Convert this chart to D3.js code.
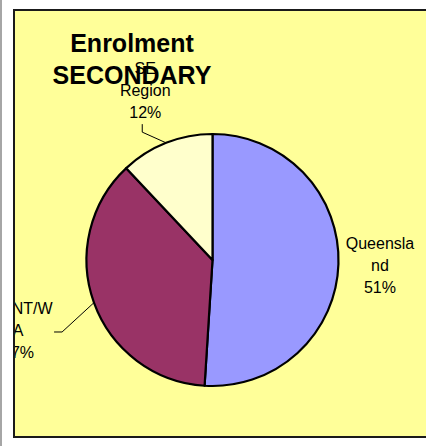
<!DOCTYPE html>
<html>
<head>
<meta charset="utf-8">
<title>Enrolment SECONDARY</title>
<script src="https://cdn.jsdelivr.net/npm/d3@7"></script>
<style>
body { margin: 0; background: #fff; overflow: hidden; }
svg { display: block; }
svg text { font-family: "Liberation Sans", Arial, sans-serif; fill: #000; }
</style>
</head>
<body>
<div id="chart"></div>
<script>
// data
var regions = ["Queensland", "NT/WA", "SE Region"];
var shares = [51, 37, 12];
var colours = ["#9999FF", "#993366", "#FFFFCC"];
// how Excel wrapped each label
var labelLines = [["Queensla", "nd", "51%"], ["NT/W", "A", "37%"], ["SE", "Region", "12%"]];
var titleLines = ["Enrolment", "SECONDARY"];

var width = 426, height = 448;
var cx = 212.5, cy = 260, r = 126;

var svg = d3.select("#chart").append("svg")
    .attr("width", width)
    .attr("height", height);

// grey rule on the far left
svg.append("rect")
    .attr("x", 0).attr("y", 0)
    .attr("width", 2).attr("height", 446)
    .attr("fill", "#a6a6a6");

// chart area (runs off the right edge, so no right border)
svg.append("clipPath").attr("id", "area")
  .append("rect")
    .attr("x", 15).attr("y", 11)
    .attr("width", 420).attr("height", 425);

svg.append("rect")
    .attr("x", 14).attr("y", 10)
    .attr("width", 420).attr("height", 427)
    .attr("fill", "#FFFF99");

svg.append("path")
    .attr("d", "M" + (width + 5) + ",10H14V437H" + (width + 5))
    .attr("fill", "none")
    .attr("stroke", "#1a1a1a")
    .attr("stroke-width", 2);

var plot = svg.append("g").attr("clip-path", "url(#area)");

var pie = d3.pie().sort(null).value(function(d) { return d; });
var arcs = pie(shares);

var arc = d3.arc().innerRadius(0).outerRadius(r);

var g = plot.append("g").attr("transform", "translate(" + cx + "," + cy + ")");

g.selectAll("path.slice")
    .data(arcs)
    .enter().append("path")
    .attr("class", "slice")
    .attr("d", arc)
    .attr("fill", function(d, i) { return colours[i]; })
    .attr("stroke", "#000")
    .attr("stroke-width", 2.2)
    .attr("stroke-linejoin", "round");

// label placement: distance of label centre from pie centre, in radii
var labelRadius = [1.33, 1.64, 1.45];
var lineGap = 22;

function mid(d) { return (d.startAngle + d.endAngle) / 2; }
function polar(a, dist) { return [Math.sin(a) * dist, -Math.cos(a) * dist]; }

// leader lines: from the slice edge to an elbow next to the label, then a short tail
var leaders = [null,
  { elbow: [44, 2], tail: [36, 2] },
  { elbow: [-3, 42], tail: [-3, 34] }];

arcs.forEach(function(d, i) {
  var L = leaders[i];
  if (!L) return;
  var a = mid(d);
  var c = polar(a, r * labelRadius[i]);
  var p0 = polar(a, r);
  var p1 = [c[0] + L.elbow[0], c[1] + L.elbow[1]];
  var p2 = [c[0] + L.tail[0], c[1] + L.tail[1]];
  g.append("polyline")
    .attr("points", [p0, p1, p2].map(function(p) { return p.join(","); }).join(" "))
    .attr("fill", "none")
    .attr("stroke", "#000")
    .attr("stroke-width", 1);
});

arcs.forEach(function(d, i) {
  var c = polar(mid(d), r * labelRadius[i]);
  var t = g.append("text")
    .attr("text-anchor", "middle")
    .attr("font-size", 16);
  labelLines[i].forEach(function(s, j) {
    t.append("tspan")
      .attr("x", c[0] + (i === 1 && j === 0 ? 14 : 0))
      .attr("y", c[1] + 6 + (j - 1) * lineGap)
      .text(s);
  });
});

// title sits on top of the SE label
var title = plot.append("text")
    .attr("text-anchor", "middle")
    .attr("font-size", 25)
    .attr("font-weight", "bold");
titleLines.forEach(function(s, j) {
  title.append("tspan")
    .attr("x", 132)
    .attr("y", 52 + j * 32)
    .text(s);
});
</script>
</body>
</html>
